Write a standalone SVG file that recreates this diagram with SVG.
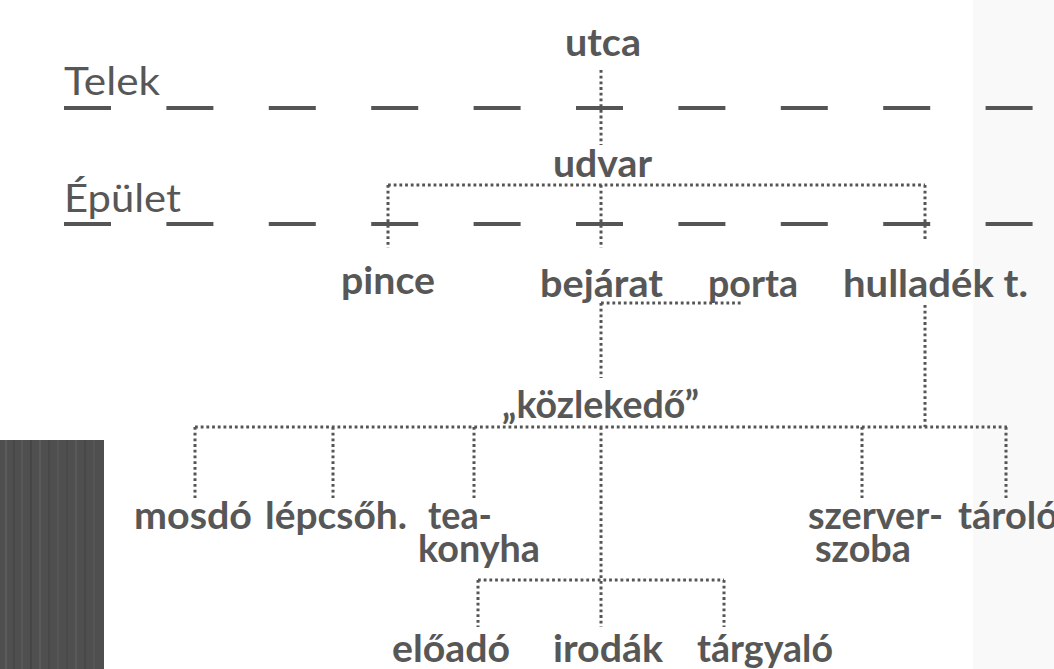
<svg xmlns="http://www.w3.org/2000/svg" width="1054" height="669" viewBox="0 0 1054 669">
  <style>
    .lbl { font-family: Lato, "Open Sans", "Liberation Sans", sans-serif; font-weight: 700; font-size: 38px; fill: #575757; }
    .lvl { font-family: Lato, "Open Sans", "Liberation Sans", sans-serif; font-weight: 400; font-size: 38px; fill: #575757; }
    .dash { stroke: #555555; stroke-width: 4; stroke-dasharray: 47 55.4; fill: none; }
    .dot { stroke: #555555; stroke-width: 3; stroke-dasharray: 2.8 2.9; fill: none; }
  </style>
  <rect x="0" y="0" width="1054" height="669" fill="#ffffff"/>
  <rect x="973" y="0" width="81" height="669" fill="#f9f9f9"/>

  <g id="dark-strip">
    <rect x="0" y="440" width="104" height="229" fill="#4f4f4f"/>
    <g stroke-width="2" opacity="0.6">
      <line x1="6" y1="440" x2="6" y2="669" stroke="#666"/>
      <line x1="14" y1="440" x2="14" y2="669" stroke="#444"/>
      <line x1="22" y1="440" x2="22" y2="669" stroke="#5e5e5e"/>
      <line x1="31" y1="440" x2="31" y2="669" stroke="#3f3f3f"/>
      <line x1="40" y1="440" x2="40" y2="669" stroke="#626262"/>
      <line x1="49" y1="440" x2="49" y2="669" stroke="#454545"/>
      <line x1="58" y1="440" x2="58" y2="669" stroke="#5c5c5c"/>
      <line x1="67" y1="440" x2="67" y2="669" stroke="#474747"/>
      <line x1="76" y1="440" x2="76" y2="669" stroke="#606060"/>
      <line x1="85" y1="440" x2="85" y2="669" stroke="#444"/>
      <line x1="94" y1="440" x2="94" y2="669" stroke="#5a5a5a"/>
    </g>
  </g>

  <g id="boundaries">
    <line class="dash" x1="64" y1="108" x2="1036" y2="108"/>
    <line class="dash" x1="64" y1="224" x2="1036" y2="224"/>
  </g>

  <g id="connectors">
    <path class="dot" d="M601 70 V145"/>
    <path class="dot" d="M388 185 H925 M388 185 V248 M601 185 V248 M925 185 V240"/>
    <path class="dot" d="M601 303 V378 M601 303 H742"/>
    <path class="dot" d="M925 305 V427"/>
    <path class="dot" d="M195 427 H1007 M195 427 V498 M333 427 V498 M474 427 V498 M862 427 V498 M1006 427 V498 M601 427 V627"/>
    <path class="dot" d="M478 580 H724 M478 580 V627 M724 580 V627"/>
  </g>

  <g id="level-telek"><text class="lvl" x="64" y="95" textLength="96" lengthAdjust="spacingAndGlyphs">Telek</text></g>
  <g id="level-epulet"><text class="lvl" x="64" y="212" textLength="117" lengthAdjust="spacingAndGlyphs">Épület</text></g>

  <g id="utca"><text class="lbl" x="565" y="56" textLength="76" lengthAdjust="spacingAndGlyphs">utca</text></g>
  <g id="udvar"><text class="lbl" x="553" y="177" textLength="99" lengthAdjust="spacingAndGlyphs">udvar</text></g>
  <g id="pince"><text class="lbl" x="341" y="294" textLength="94" lengthAdjust="spacingAndGlyphs">pince</text></g>
  <g id="bejarat"><text class="lbl" x="540" y="297" textLength="123" lengthAdjust="spacingAndGlyphs">bejárat</text></g>
  <g id="porta"><text class="lbl" x="708" y="297" textLength="90" lengthAdjust="spacingAndGlyphs">porta</text></g>
  <g id="hulladek"><text class="lbl" x="843" y="297" textLength="185" lengthAdjust="spacingAndGlyphs">hulladék t.</text></g>
  <g id="kozlekedo"><text class="lbl" x="502" y="418" textLength="197" lengthAdjust="spacingAndGlyphs">„közlekedő”</text></g>
  <g id="mosdo"><text class="lbl" x="134" y="529" textLength="118" lengthAdjust="spacingAndGlyphs">mosdó</text></g>
  <g id="lepcsoh"><text class="lbl" x="265" y="529" textLength="142" lengthAdjust="spacingAndGlyphs">lépcsőh.</text></g>
  <g id="teakonyha">
    <text class="lbl" x="428" y="529" textLength="64" lengthAdjust="spacingAndGlyphs">tea-</text>
    <text class="lbl" x="418" y="562" textLength="122" lengthAdjust="spacingAndGlyphs">konyha</text>
  </g>
  <g id="szerverszoba">
    <text class="lbl" x="808" y="529" textLength="135" lengthAdjust="spacingAndGlyphs">szerver-</text>
    <text class="lbl" x="815" y="562" textLength="96" lengthAdjust="spacingAndGlyphs">szoba</text>
  </g>
  <g id="tarolo"><text class="lbl" x="958" y="529" textLength="100" lengthAdjust="spacingAndGlyphs">tároló</text></g>
  <g id="eloado"><text class="lbl" x="392" y="662" textLength="118" lengthAdjust="spacingAndGlyphs">előadó</text></g>
  <g id="irodak"><text class="lbl" x="553" y="662" textLength="110" lengthAdjust="spacingAndGlyphs">irodák</text></g>
  <g id="targyalo"><text class="lbl" x="697" y="662" textLength="136" lengthAdjust="spacingAndGlyphs">tárgyaló</text></g>
</svg>
